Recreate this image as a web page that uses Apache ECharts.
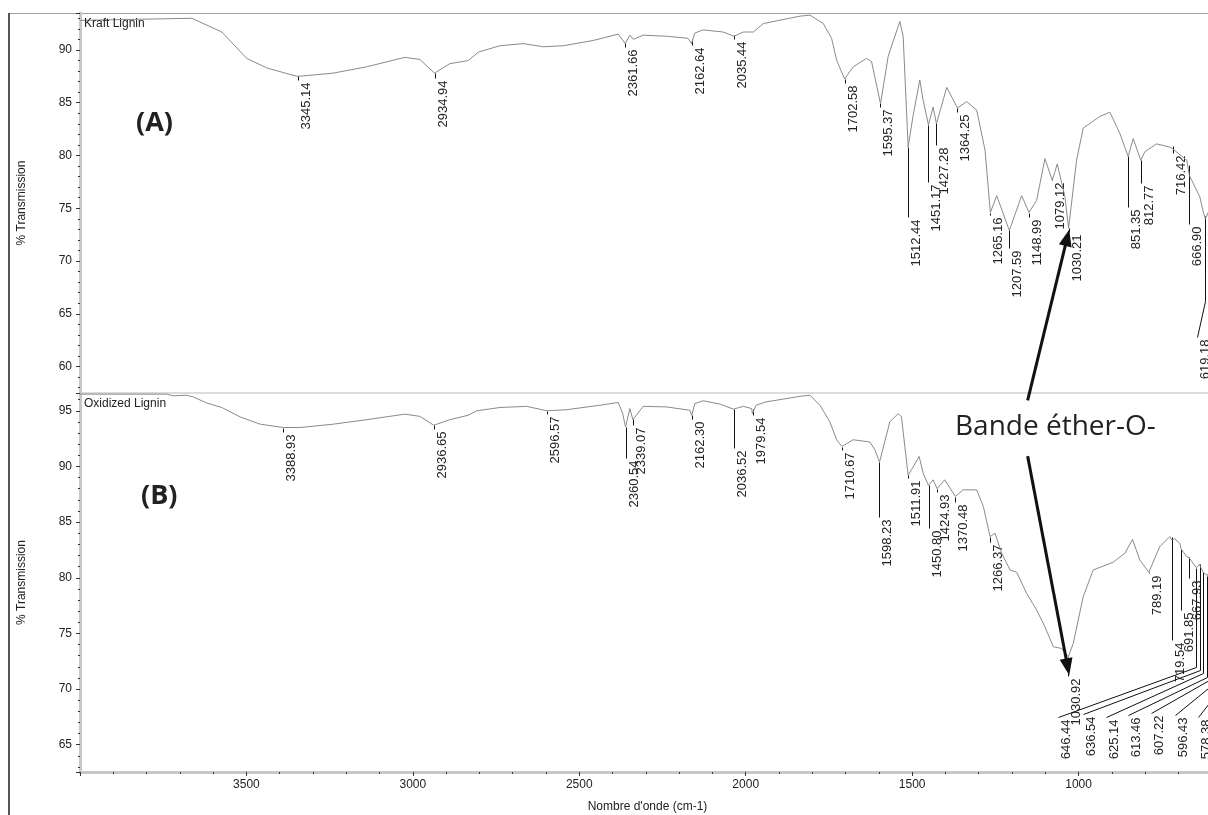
<!DOCTYPE html>
<html>
<head>
<meta charset="utf-8">
<script src="https://cdn.jsdelivr.net/npm/echarts@6.0.0/dist/echarts.min.js"></script>
<style>
  html, body { margin: 0; padding: 0; background: #fff; }
  #main { width: 1208px; height: 815px; }
</style>
</head>
<body>
<div id="main"></div>
<script>
// spectrum (A) kraft lignin : wavenumber / %T
var aWn = [4000, 3664, 3574, 3499, 3439, 3360, 3345, 3240, 3139, 3024,
  2979, 2935, 2889, 2833, 2803, 2738, 2668, 2608, 2548, 2458,
  2383, 2362, 2348, 2338, 2308, 2238, 2173, 2163, 2153, 2128,
  2068, 2035, 2007, 1977, 1947, 1837, 1807, 1767, 1742, 1727,
  1703, 1677, 1637, 1622, 1595, 1572, 1537, 1527, 1517, 1512,
  1497, 1477, 1467, 1451, 1437, 1427, 1396, 1364, 1336, 1306,
  1281, 1265, 1246, 1208, 1171, 1149, 1126, 1101, 1079, 1064,
  1041, 1030, 1006, 986, 936, 906, 876, 851, 836, 813,
  801, 766, 726, 716, 675, 667, 636, 624, 619, 605];
var aT = [92.8, 93.0, 91.7, 89.2, 88.3, 87.6, 87.5, 87.8, 88.4, 89.3,
  89.1, 87.8, 88.7, 89.0, 89.8, 90.4, 90.6, 90.3, 90.4, 90.9,
  91.5, 90.6, 91.4, 91.0, 91.4, 91.3, 91.1, 90.6, 91.6, 91.9,
  91.7, 91.3, 91.7, 91.7, 92.5, 93.2, 93.3, 92.5, 91.1, 89.05,
  87.25, 88.4, 89.2, 88.9, 84.9, 89.4, 92.7, 91.3, 84.3, 80.8,
  83.8, 87.15, 85.25, 82.9, 84.6, 83.0, 86.45, 84.5, 85.1, 84.3,
  80.5, 74.6, 76.2, 72.9, 76.2, 74.6, 75.75, 79.7, 77.65, 79.2,
  76.1, 73.1, 79.55, 82.6, 83.7, 84.1, 82.1, 79.9, 81.6, 79.55,
  80.35, 81.1, 80.8, 80.6, 79.55, 78.1, 76.1, 74.5, 74.0, 75.0];

// spectrum (B) oxidized lignin
var bWn = [4000, 3740, 3720, 3679, 3660, 3619, 3574, 3519, 3459, 3389,
  3339, 3239, 3139, 3024, 2979, 2937, 2889, 2834, 2808, 2738,
  2658, 2597, 2538, 2438, 2383, 2370, 2361, 2348, 2339, 2308,
  2238, 2168, 2162, 2153, 2128, 2077, 2037, 2007, 1982, 1980,
  1969, 1939, 1837, 1807, 1777, 1747, 1727, 1711, 1677, 1627,
  1612, 1598, 1567, 1542, 1532, 1522, 1512, 1502, 1479, 1467,
  1451, 1437, 1425, 1402, 1370, 1347, 1306, 1286, 1266, 1251,
  1231, 1206, 1186, 1156, 1126, 1101, 1076, 1051, 1031, 1016,
  986, 956, 896, 861, 838, 816, 789, 756, 726, 720,
  711, 696, 692, 675, 668, 646, 637, 626, 613, 607,
  596, 578];
var bT = [96.5, 96.5, 96.35, 96.4, 96.25, 95.7, 95.3, 94.45, 93.8, 93.5,
  93.5, 93.8, 94.2, 94.7, 94.5, 93.7, 94.2, 94.6, 95.0, 95.3,
  95.4, 95.0, 95.1, 95.5, 95.75, 94.8, 93.55, 95.2, 94.2, 95.4,
  95.35, 95.05, 94.6, 95.65, 95.9, 95.6, 95.15, 95.4, 95.2, 94.75,
  95.5, 95.8, 96.3, 96.4, 95.5, 94.0, 92.4, 91.8, 92.4, 92.2,
  91.5, 90.4, 94.0, 94.75, 94.45, 91.8, 89.2, 89.7, 90.9, 89.4,
  88.3, 88.8, 88.0, 88.8, 87.3, 87.9, 87.9, 86.4, 83.7, 84.0,
  82.2, 80.7, 80.5, 78.6, 77.1, 75.6, 73.8, 73.65, 72.9, 74.1,
  78.3, 80.7, 81.4, 82.2, 83.45, 81.6, 80.5, 82.8, 83.7, 83.4,
  83.5, 83.1, 82.6, 81.9, 81.8, 80.9, 81.2, 80.5, 80.2, 80.6,
  80.0, 79.8];

// peak picks: [peak, line from %T, line to %T, (label wn, label %T) when bent]
var aPeaks = [
  [3345.14, 87.5, 87.15], [2934.94, 87.84, 87.31], [2361.66, 90.66, 90.28],
  [2162.64, 91.04, 90.47], [2035.44, 91.42, 91.04], [1702.58, 87.25, 86.87],
  [1595.37, 84.97, 84.59], [1512.44, 80.79, 74.14], [1451.17, 82.88, 77.46],
  [1427.28, 83.07, 80.98], [1364.25, 84.5, 84.1], [1265.16, 74.6, 74.4],
  [1207.59, 72.9, 71.2], [1148.99, 74.6, 74.14], [1079.12, 77.84, 77.65],
  [1030.21, 73.1, 72.8], [851.35, 79.93, 75.1], [812.77, 79.55, 77.37],
  [716.42, 80.9, 80.2], [666.90, 79.1, 73.5], [619.18, 74.3, 66.26, 645, 62.8]
];
var bPeaks = [
  [3388.93, 93.47, 93.11], [2936.65, 93.72, 93.33], [2596.57, 95.0, 94.68],
  [2360.54, 93.56, 90.72], [2339.07, 94.25, 93.72], [2162.30, 94.61, 94.23],
  [2036.52, 95.15, 91.62], [1979.54, 95.13, 94.61], [1710.67, 91.77, 91.47],
  [1598.23, 90.42, 85.48], [1511.91, 89.22, 88.95], [1450.80, 88.32, 84.43],
  [1424.93, 88.0, 87.72], [1370.48, 87.27, 86.82], [1266.37, 83.68, 83.23],
  [1030.92, 72.9, 71.17], [789.19, 80.53, 80.42], [719.54, 83.68, 74.4],
  [691.85, 82.6, 77.1], [667.93, 81.9, 79.96],
  [646.44, 80.87, 71.97, 1062, 67.48], [636.54, 81.2, 71.7, 988, 67.75],
  [625.14, 80.5, 71.43, 918, 67.48], [613.46, 80.2, 71.07, 852, 67.66],
  [607.22, 80.6, 70.8, 781, 67.84], [596.43, 80.0, 70.44, 711, 67.66],
  [578.38, 79.8, 69.9, 641, 67.48]
];

// arrows to the ether band: [tail wn, tail %T, head wn, head %T]
var aArrows = [[1153, 56.8, 1028, 73.0]];
var bArrows = [[1153, 90.93, 1028, 71.25]];

var font = '"Liberation Sans", Arial, sans-serif';
var txt = { fontFamily: font, fontSize: 12, color: '#222' };

function crisp(p) {
  return [Math.round(p[0]) + 0.5, Math.round(p[1]) + 0.5];
}

function peakItem(list) {
  return function (params, api) {
    var d = list[params.dataIndex];
    var pts = [crisp(api.coord([d[0], d[1]])), crisp(api.coord([d[0], d[2]]))];
    if (d.length > 3) pts.push(crisp(api.coord([d[3], d[4]])));
    var end = pts[pts.length - 1];
    return {
      type: 'group',
      children: [{
        type: 'polyline',
        shape: { points: pts },
        style: { stroke: '#111', lineWidth: 1, fill: null }
      }, {
        type: 'text',
        x: end[0] + 1,
        y: end[1] + 2,
        rotation: Math.PI / 2,
        style: {
          text: d[0].toFixed(2),
          font: '13px ' + font,
          fill: '#222',
          align: 'right', verticalAlign: 'top',
          textAlign: 'right', textVerticalAlign: 'top'
        }
      }]
    };
  };
}

function arrowItem(list) {
  return function (params, api) {
    var a = list[params.dataIndex];
    var t = api.coord([a[0], a[1]]), h = api.coord([a[2], a[3]]);
    var dx = h[0] - t[0], dy = h[1] - t[1];
    var len = Math.sqrt(dx * dx + dy * dy), ux = dx / len, uy = dy / len;
    var hl = 17, hw = 6.5;
    var b = [h[0] - ux * hl, h[1] - uy * hl];
    return {
      type: 'group',
      children: [{
        type: 'line',
        shape: { x1: t[0], y1: t[1], x2: b[0] + ux * 2, y2: b[1] + uy * 2 },
        style: { stroke: '#111', lineWidth: 3 }
      }, {
        type: 'polygon',
        shape: { points: [h, [b[0] - uy * hw, b[1] + ux * hw], [b[0] + uy * hw, b[1] - ux * hw]] },
        style: { fill: '#111' }
      }]
    };
  };
}

function xAxis(i, show) {
  return {
    type: 'value', gridIndex: i, show: show,
    min: 500, max: 4000, interval: 500, inverse: true,
    name: "Nombre d'onde (cm-1)", nameLocation: 'middle', nameGap: 29,
    nameTextStyle: Object.assign({ padding: [0, 30, 0, 0] }, txt),
    axisLine: { show: true, onZero: false, lineStyle: { color: '#c8c8c8', width: 3 } },
    axisTick: { show: true, length: 4, lineStyle: { color: '#333' } },
    minorTick: { show: true, splitNumber: 5, length: 2, lineStyle: { color: '#333' } },
    splitLine: { show: false },
    axisLabel: Object.assign({ margin: 7, formatter: function (v) {
      return (v === 500 || v === 4000) ? '' : String(v);
    } }, txt)
  };
}

function yAxis(i, min, max) {
  return {
    type: 'value', gridIndex: i, min: min, max: max,
    minInterval: 5, maxInterval: 5, splitNumber: 7,
    name: '% Transmission', nameLocation: 'middle', nameGap: 52,
    nameTextStyle: txt,
    axisLine: { show: true, onZero: false, lineStyle: { color: '#c8c8c8', width: 3 } },
    axisTick: { show: true, length: 4, lineStyle: { color: '#333' } },
    minorTick: { show: true, splitNumber: 5, length: 2, lineStyle: { color: '#333' } },
    splitLine: { show: false },
    axisLabel: Object.assign({ margin: 8, formatter: function (v) {
      return Math.abs(v % 5) < 1e-6 ? String(v) : '';
    } }, txt)
  };
}

function pairs(xs, ys) {
  return xs.map(function (x, i) { return [x, ys[i]]; });
}

var chart = echarts.init(document.getElementById('main'));

var option = {
  animation: false,
  backgroundColor: '#fff',
  title: [
    { text: 'Kraft Lignin', left: 84, top: 18, padding: 0,
      textStyle: Object.assign({ fontWeight: 'normal' }, txt) },
    { text: 'Oxidized Lignin', left: 84, top: 398, padding: 0,
      textStyle: Object.assign({ fontWeight: 'normal' }, txt) },
    { text: '(A)', left: 136, top: 110, padding: 0,
      textStyle: { fontFamily: 'Open Sans', fontWeight: 'bold', fontSize: 27, color: '#222' } },
    { text: '(B)', left: 141, top: 483, padding: 0,
      textStyle: { fontFamily: 'Open Sans', fontWeight: 'bold', fontSize: 27, color: '#222' } },
    { text: 'Bande éther-O-', left: 955, top: 413, padding: 0,
      textStyle: { fontFamily: 'Open Sans', fontWeight: 'normal', fontSize: 28, color: '#222' } }
  ],
  grid: [
    { left: 80, top: 13, width: 1165, height: 380, outerBoundsMode: 'none' },
    { left: 80, top: 393, width: 1165, height: 379, outerBoundsMode: 'none',
      show: true, borderColor: '#dcdcdc', borderWidth: 2 }
  ],
  xAxis: [xAxis(0, false), xAxis(1, true)],
  yAxis: [yAxis(0, 57.5, 93.5), yAxis(1, 62.55, 96.6)],
  graphic: [
    { type: 'line', shape: { x1: 9, y1: 13.5, x2: 1208, y2: 13.5 },
      style: { stroke: '#a0a0a0', lineWidth: 1 } },
    { type: 'line', shape: { x1: 9, y1: 13, x2: 9, y2: 815 },
      style: { stroke: '#555', lineWidth: 2 } }
  ],
  series: [
    { type: 'line', name: 'Kraft Lignin', xAxisIndex: 0, yAxisIndex: 0,
      data: pairs(aWn, aT), showSymbol: false, silent: true,
      lineStyle: { color: '#8a8a8a', width: 1 } },
    { type: 'line', name: 'Oxidized Lignin', xAxisIndex: 1, yAxisIndex: 1,
      data: pairs(bWn, bT), showSymbol: false, silent: true,
      lineStyle: { color: '#8a8a8a', width: 1 } },
    { type: 'custom', xAxisIndex: 0, yAxisIndex: 0, silent: true, z: 3,
      renderItem: peakItem(aPeaks), data: aPeaks.map(function (d) { return [d[0], d[1]]; }) },
    { type: 'custom', xAxisIndex: 1, yAxisIndex: 1, silent: true, z: 3,
      renderItem: peakItem(bPeaks), data: bPeaks.map(function (d) { return [d[0], d[1]]; }) },
    { type: 'custom', xAxisIndex: 0, yAxisIndex: 0, silent: true, z: 5,
      renderItem: arrowItem(aArrows), data: aArrows.map(function (d) { return [d[2], d[3]]; }) },
    { type: 'custom', xAxisIndex: 1, yAxisIndex: 1, silent: true, z: 5,
      renderItem: arrowItem(bArrows), data: bArrows.map(function (d) { return [d[2], d[3]]; }) }
  ]
};

chart.setOption(option);
</script>
</body>
</html>
